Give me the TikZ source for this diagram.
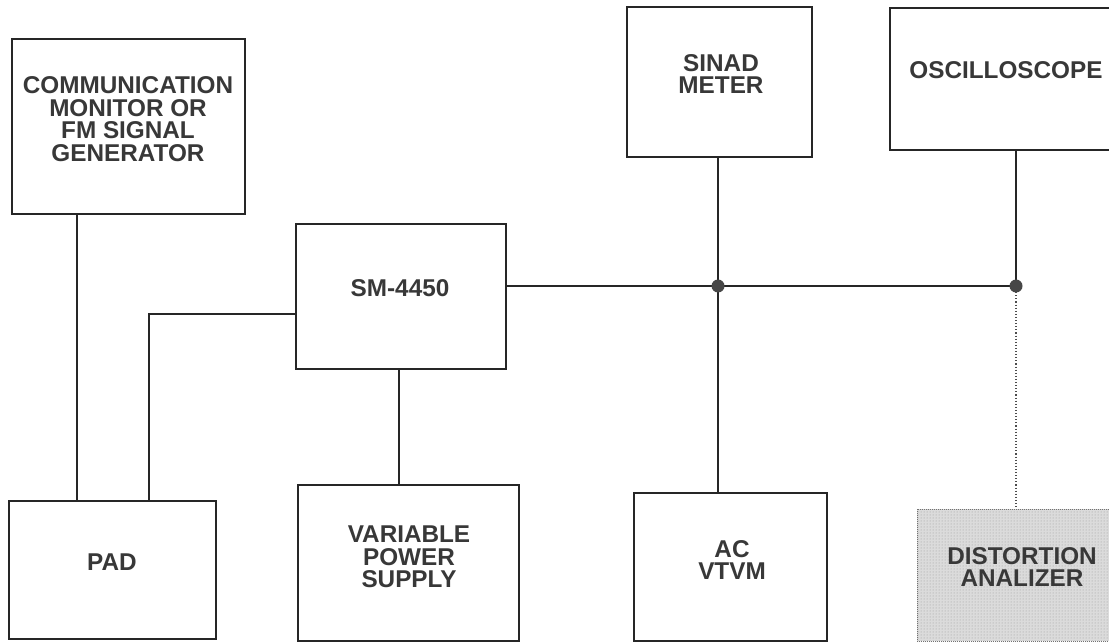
\documentclass[tikz,border=0pt]{standalone}
\usepackage{fontspec}
\setmainfont{Liberation Sans}
\usetikzlibrary{patterns}
\tikzset{
  box/.style={draw=black!85, line width=1.2pt, inner sep=0pt, fill=white},
  lbl/.style={font=\fontsize{24.3}{22.7}\selectfont\bfseries, text=black!78, align=center, inner sep=0pt},
  wire/.style={draw=black!85, line width=1.2pt},
  mainwire/.style={draw=black!85, line width=1.7pt},
  dotline/.style={draw=black!70, line width=1.1pt, dotted},
  junction/.style={circle, fill=black!72, minimum size=13pt, inner sep=0pt},
  distbox/.style={draw=black!55, line width=1pt, densely dotted, inner sep=0pt,
    preaction={fill=black!14}, pattern=dots, pattern color=black!40}
}
\begin{document}
\begin{tikzpicture}[x=1pt,y=-1pt]
\useasboundingbox (0,0) rectangle (1109,644);
\clip (0,0) rectangle (1109,644);
\fill[white] (0,0) rectangle (1109,644);

% boxes
\node[box, minimum width=233pt, minimum height=175pt] (comm) at (128.5,126.5) {};
\node[box, minimum width=210pt, minimum height=145pt] (sm) at (401,296.5) {};
\node[box, minimum width=185pt, minimum height=150pt] (sinad) at (719.5,82) {};
\node[box, minimum width=250pt, minimum height=142pt] (osc) at (1015,79) {};
\node[box, minimum width=207pt, minimum height=138pt] (pad) at (112.5,570) {};
\node[box, minimum width=221pt, minimum height=156pt] (vps) at (408.5,563) {};
\node[box, minimum width=193pt, minimum height=148pt] (ac) at (730.5,567) {};
\node[distbox, minimum width=223pt, minimum height=132pt] (dist) at (1028.5,575) {};

% labels
\node[lbl] (commtxt) at (128,119) {COMMUNICATION\\MONITOR OR\\FM SIGNAL\\GENERATOR};
\node[lbl] (smtxt) at (400,288) {SM-4450};
\node[lbl] (sinadtxt) at (721,74) {SINAD\\METER};
\node[lbl] (osctxt) at (1006,70) {OSCILLOSCOPE};
\node[lbl] (padtxt) at (112,562) {PAD};
\node[lbl] (vpstxt) at (409,557) {VARIABLE\\POWER\\SUPPLY};
\node[lbl] (actxt) at (732,560) {AC\\VTVM};
\node[lbl] (disttxt) at (1022,567) {DISTORTION\\ANALIZER};

% helper coordinates
\coordinate (j1) at (718,286);
\coordinate (j2) at (1016,286);
\coordinate (colA) at (77,400);
\coordinate (colB) at (399,400);
\coordinate (bend) at (149,314);

% connectors
\draw[wire] (comm.south -| colA) -- (pad.north -| colA);
\draw[wire] (sm.west |- bend) -- (bend) -- (bend |- pad.north);
\draw[wire] (sm.south -| colB) -- (vps.north -| colB);
\draw[mainwire] (sm.east |- j1) -- (j1) -- (j2);
\draw[wire] (sinad.south -| j1) -- (j1) -- (j1 |- ac.north);
\draw[wire] (osc.south -| j2) -- (j2);
\draw[dotline] (j2) -- (j2 |- dist.north);

% junction dots
\node[junction] (dot1) at (j1) {};
\node[junction] (dot2) at (j2) {};
\end{tikzpicture}
\end{document}
